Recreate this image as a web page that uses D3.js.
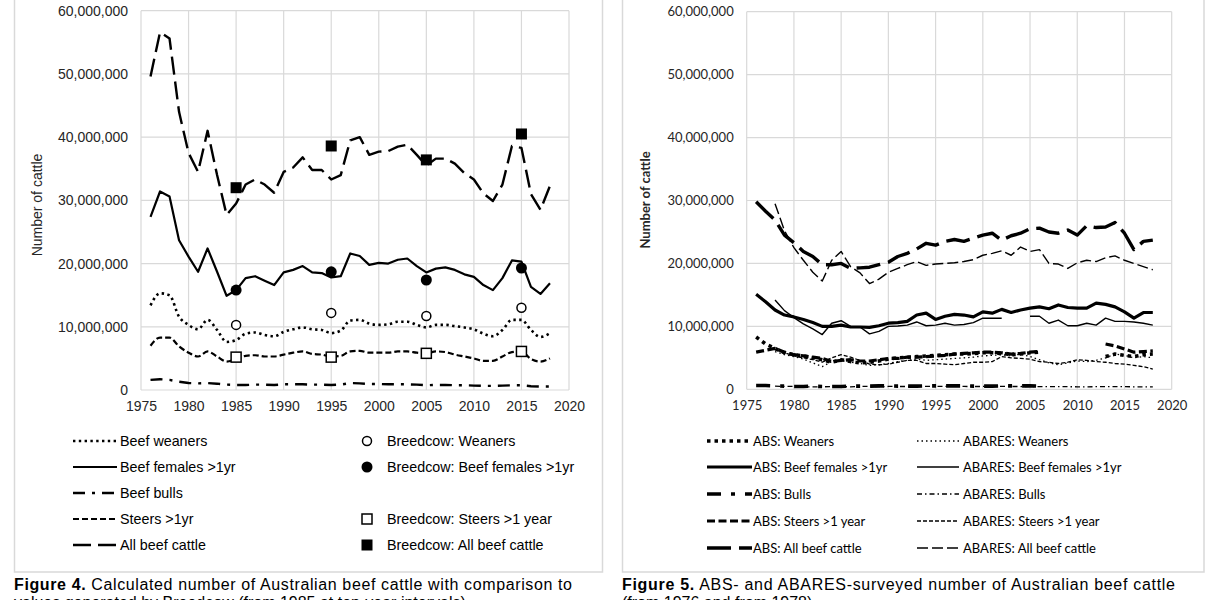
<!DOCTYPE html>
<html>
<head>
<meta charset="utf-8">
<script src="https://cdn.jsdelivr.net/npm/d3@7"></script>
<style>
  body { margin: 0; background: #fff; }
  svg { display: block; }
</style>
</head>
<body>
<svg id="fig" width="1217" height="600"></svg>
<script>
// ---- data (millions of head) ----
var years = [1976,1977,1978,1979,1980,1981,1982,1983,1984,1985,1986,1987,1988,1989,1990,
             1991,1992,1993,1994,1995,1996,1997,1998,1999,2000,2001,2002,2003,2004,2005,
             2006,2007,2008,2009,2010,2011,2012,2013,2014,2015,2016,2017,2018];
var yTicks = [0,10,20,30,40,50,60];
var xTicks = [1975,1980,1985,1990,1995,2000,2005,2010,2015,2020];

// Figure 4 - calculated
var calcWeaners = [13.4,15.3,15.0,11.6,10.3,9.6,11.1,9.5,7.6,7.9, 8.9,9.1,8.7,8.5,9.2,9.6,9.9,9.6,9.5,9.0,
                   9.4,11.0,11.1,10.5,10.3,10.4,10.8,10.8,10.3,9.9, 10.3,10.3,10.1,9.9,9.6,8.9,8.5,9.5,11.1,11.1,
                   9.5,8.4,9.0];
var calcFemales = [27.4,31.4,30.6,23.7,21.1,18.7,22.4,18.7,14.9,15.8, 17.7,18.0,17.3,16.6,18.6,19.0,19.6,18.6,18.5,17.8,
                   18.0,21.6,21.2,19.8,20.1,20.0,20.6,20.8,19.6,18.6, 19.2,19.4,19.0,18.3,17.9,16.6,15.8,17.7,20.5,20.3,
                   16.3,15.2,16.9];
var calcBulls = [1.6,1.7,1.6,1.3,1.1,1.05,1.1,1.0,0.85,0.8, 0.8,0.85,0.85,0.8,0.9,0.9,0.9,0.85,0.85,0.8,
                 0.85,1.1,1.05,0.95,0.95,0.9,0.9,0.9,0.85,0.75, 0.8,0.8,0.75,0.75,0.7,0.65,0.65,0.7,0.75,0.75,
                 0.6,0.55,0.55];
var calcSteers = [7.0,8.3,8.3,6.9,5.9,5.3,6.1,5.3,4.5,4.9, 5.4,5.5,5.3,5.3,5.6,5.9,6.1,5.7,5.6,5.3,
                  5.4,6.1,6.2,5.9,5.9,5.9,6.1,6.1,5.9,5.8, 6.1,6.0,5.6,5.3,5.0,4.6,4.6,5.3,6.0,6.1,
                  4.9,4.5,5.0];
var calcAll = [49.6,56.6,55.6,44.0,37.5,34.5,41.0,34.0,27.7,29.5, 32.5,33.3,32.5,31.2,34.5,35.2,36.8,34.8,34.8,33.3,
               34.0,39.5,40.0,37.2,37.7,37.8,38.5,38.8,37.2,35.5, 36.6,36.6,35.8,34.3,33.3,31.1,29.9,32.5,38.6,38.3,
               31.0,28.5,32.3];

var bcYears = [1985,1995,2005,2015];
var bcWeaners = [10.3,12.2,11.7,13.0];
var bcFemales = [15.8,18.7,17.4,19.3];
var bcSteers = [5.2,5.2,5.8,6.1];
var bcAll = [32.0,38.6,36.4,40.5];

// Figure 5 - ABS and ABARES surveys
var absWeaners = [8.3,7.2,6.5,5.8,5.5,5.3,5.0,4.7,4.3,4.7, 4.4,4.2,4.3,4.5,4.8,5.0,5.1,5.2,5.3,5.4,
                  5.5,5.6,5.6,5.7,5.8,5.8,5.7,5.5,5.6,5.8, 5.9,null,null,null,null,null,null,5.2,5.6,5.4,
                  5.2,5.5,5.6];
var absFemales = [15.1,13.9,12.6,11.8,11.5,11.1,10.6,10.0,10.0,10.2, 9.9,9.9,9.85,10.1,10.5,10.6,10.8,11.8,12.1,11.1,
                  11.6,11.9,11.8,11.5,12.3,12.1,12.7,12.2,12.6,12.9, 13.1,12.8,13.4,13.0,12.9,12.9,13.7,13.5,13.1,12.3,
                  11.3,12.2,12.2];
var absBulls = [0.6,0.6,0.55,0.5,0.45,0.45,0.5,0.45,0.45,0.45, 0.5,0.5,0.5,0.55,0.55,0.5,0.5,0.5,0.55,0.55,
                0.55,0.55,0.55,0.5,0.5,0.5,0.55,0.55,0.55,0.55, 0.5,null,null,null,null,null,null,null,null,null,
                null,null,null];
var absSteers = [5.9,6.2,6.5,5.9,5.5,5.3,5.1,4.9,4.4,4.6, 4.7,4.5,4.5,4.7,4.9,4.9,5.1,5.1,5.2,5.3,
                 5.4,5.6,5.7,5.8,5.9,5.9,5.8,5.6,5.7,5.9, 6.0,null,null,null,null,null,null,7.2,6.9,6.4,
                 5.9,6.0,6.1];
var absAll = [29.8,28.3,26.9,24.5,23.3,21.9,21.1,19.8,19.8,20.0, 19.2,19.3,19.4,19.8,20.2,21.1,21.6,22.3,23.2,22.9,
              23.5,23.8,23.5,24.0,24.5,24.8,23.7,24.4,24.8,25.5, 25.6,25.0,24.8,25.3,24.5,26.0,25.7,25.8,26.5,24.8,
              22.2,23.5,23.7];

var abaWeaners = [null,null,6.0,5.5,5.2,4.8,4.2,3.6,4.4,4.6, 4.3,4.1,3.8,3.9,4.1,4.4,4.6,4.8,4.6,4.7,
                  4.8,4.9,5.0,5.1,5.3,5.4,5.5,5.3,5.6,5.2, 4.7,4.2,3.9,4.2,4.5,4.4,4.6,5.0,5.6,5.4,
                  5.0,5.2,5.0];
var abaFemales = [null,null,14.2,12.5,11.4,10.4,9.6,8.7,10.5,10.9, 10.0,9.9,8.8,9.2,10.0,10.05,10.2,10.7,10.1,10.2,
                  10.5,10.2,10.3,10.6,11.3,11.3,11.3,null,null,11.6, 11.6,10.5,11.0,10.1,10.1,10.5,10.2,11.3,10.8,10.8,
                  10.7,10.5,10.2];
var abaBulls = [null,null,0.5,0.45,0.45,0.4,0.4,0.4,0.42,0.42, 0.4,0.45,0.45,0.42,0.45,0.45,0.44,0.45,0.45,0.46,
                0.45,0.47,0.45,0.44,0.45,0.46,0.45,0.45,0.44,0.45, 0.43,0.42,0.42,0.41,0.4,0.4,0.41,0.42,0.42,0.41,
                0.4,0.4,0.4];
var abaSteers = [null,null,6.3,5.8,5.3,5.0,4.7,4.3,5.0,5.5, 5.1,4.6,4.0,3.9,4.0,4.3,4.6,4.6,4.1,4.1,
                 4.0,3.9,4.1,4.3,4.3,4.4,5.2,5.0,4.9,4.8, 4.4,4.3,4.1,4.3,4.7,4.6,4.4,4.3,4.1,4.0,
                 3.8,3.6,3.2];
var abaAll = [null,null,29.5,25.2,22.5,20.5,18.6,17.2,20.5,21.9, 19.5,18.5,16.8,17.5,18.6,19.2,19.8,20.3,19.7,19.9,
              20.0,20.1,20.3,20.6,21.3,21.6,22.0,21.3,22.6,21.9, 22.2,20.0,19.9,19.2,20.1,20.5,20.3,20.9,21.2,20.5,
              20.0,19.5,19.0];

var svg = d3.select("#fig");
var fmt = d3.format(",");

// panel frames
svg.append("rect").attr("x", 14.5).attr("y", -3).attr("width", 588).attr("height", 575)
    .attr("fill", "none").attr("stroke", "#d9d9d9").attr("stroke-width", 1.5);
svg.append("rect").attr("x", 622.5).attr("y", -3).attr("width", 581.5).attr("height", 575)
    .attr("fill", "none").attr("stroke", "#d9d9d9").attr("stroke-width", 1.5);

function pairs(xs, vs) {
    return xs.map(function(d, i) { return [d, vs[i]]; });
}

// builds grid + axes for one panel and returns the scales
function panel(opt) {
    var x = d3.scaleLinear().domain([1975, 2020]).range(opt.xr);
    var y = d3.scaleLinear().domain([0, 60]).range(opt.yr);
    var g = svg.append("g");

    g.append("g").selectAll("line").data(yTicks).enter().append("line")
        .attr("x1", opt.xr[0]).attr("x2", opt.xr[1])
        .attr("y1", function(d) { return y(d); }).attr("y2", function(d) { return y(d); })
        .attr("stroke", "#d9d9d9").attr("stroke-width", 1.2);
    g.append("g").selectAll("line").data(xTicks).enter().append("line")
        .attr("y1", opt.yr[0]).attr("y2", opt.yr[1])
        .attr("x1", function(d) { return x(d); }).attr("x2", function(d) { return x(d); })
        .attr("stroke", "#d9d9d9").attr("stroke-width", 1.2);

    var ya = g.append("g").attr("transform", "translate(" + opt.xr[0] + ",0)")
        .call(d3.axisLeft(y).tickValues(yTicks).tickSize(0).tickPadding(opt.padY)
            .tickFormat(function(d) { return fmt(d * 1e6); }));
    var xa = g.append("g").attr("transform", "translate(0," + opt.yr[0] + ")")
        .call(d3.axisBottom(x).tickValues(xTicks).tickSize(0).tickPadding(opt.padX)
            .tickFormat(d3.format("d")));
    [ya, xa].forEach(function(a) {
        a.select(".domain").remove();
        a.selectAll("text").attr("font-family", opt.font).attr("font-size", opt.size)
            .attr("fill", opt.color);
    });

    g.append("text")
        .attr("transform", "translate(" + opt.titleX + "," + opt.titleY + ") rotate(-90)")
        .attr("text-anchor", "middle")
        .attr("font-family", opt.font).attr("font-size", opt.size)
        .attr("font-weight", opt.titleWeight).attr("fill", opt.color)
        .text("Number of cattle");
    return {x: x, y: y, g: g};
}

function drawLine(p, vals, st, curve) {
    var line = d3.line()
        .defined(function(d) { return d[1] != null; })
        .x(function(d) { return p.x(d[0]); })
        .y(function(d) { return p.y(d[1]); })
        .curve(curve || d3.curveLinear);
    p.g.append("path").datum(pairs(years, vals))
        .attr("d", line).attr("fill", "none").attr("stroke", "#000")
        .attr("stroke-width", st.w).attr("stroke-dasharray", st.dash)
        .attr("stroke-linecap", st.cap || "butt").attr("stroke-linejoin", "round");
}

function marker(sel, kind, cx, cy) {
    if (kind == "oc") {
        sel.append("circle").attr("cx", cx).attr("cy", cy).attr("r", 4.5)
            .attr("fill", "#fff").attr("stroke", "#000").attr("stroke-width", 1.5);
    } else if (kind == "fc") {
        sel.append("circle").attr("cx", cx).attr("cy", cy).attr("r", 5.5).attr("fill", "#000");
    } else if (kind == "os") {
        sel.append("rect").attr("x", cx - 5).attr("y", cy - 5).attr("width", 10).attr("height", 10)
            .attr("fill", "#fff").attr("stroke", "#000").attr("stroke-width", 1.5);
    } else {
        sel.append("rect").attr("x", cx - 5.5).attr("y", cy - 5.5).attr("width", 11).attr("height", 11)
            .attr("fill", "#000");
    }
}

// ---------------- Figure 4 ----------------
var left = panel({xr: [141, 569], yr: [390, 10.7], font: "'Liberation Sans', Arial, sans-serif",
    size: 14, color: "#262626", padY: 13, padX: 11, titleX: 42, titleY: 205, titleWeight: "normal"});

var st4 = {
    weaners: {w: 2.6, dash: "2.4,3.4"},
    females: {w: 2.2, dash: null},
    bulls: {w: 2.4, dash: "12,7,3,7"},
    steers: {w: 2.2, dash: "6,3"},
    all: {w: 2.4, dash: "18,7"}
};
drawLine(left, calcBulls, st4.bulls);
drawLine(left, calcSteers, st4.steers, d3.curveMonotoneX);
drawLine(left, calcWeaners, st4.weaners, d3.curveMonotoneX);
drawLine(left, calcFemales, st4.females);
drawLine(left, calcAll, st4.all);

var mk = left.g.append("g");
bcYears.forEach(function(yr, i) {
    marker(mk, "oc", left.x(yr), left.y(bcWeaners[i]));
    marker(mk, "fc", left.x(yr), left.y(bcFemales[i]));
    marker(mk, "os", left.x(yr), left.y(bcSteers[i]));
    marker(mk, "fs", left.x(yr), left.y(bcAll[i]));
});

// legend 4
var leg4 = svg.append("g").attr("font-family", "'Liberation Sans', Arial, sans-serif")
    .attr("font-size", 14.3).attr("fill", "#000");
var leg4Lines = [["Beef weaners", st4.weaners], ["Beef females >1yr", st4.females],
                 ["Beef bulls", st4.bulls], ["Steers >1yr", st4.steers], ["All beef cattle", st4.all]];
var rows4 = [441, 467, 493, 519, 545];
leg4Lines.forEach(function(d, i) {
    leg4.append("line").attr("x1", 73).attr("x2", 117).attr("y1", rows4[i]).attr("y2", rows4[i])
        .attr("stroke", "#000").attr("stroke-width", d[1].w).attr("stroke-dasharray", d[1].dash);
    leg4.append("text").attr("x", 120).attr("y", rows4[i] + 5).text(d[0]);
});
var leg4Marks = [["oc", "Breedcow: Weaners", 0], ["fc", "Breedcow: Beef females >1yr", 1],
                 ["os", "Breedcow: Steers >1 year", 3], ["fs", "Breedcow: All beef cattle", 4]];
leg4Marks.forEach(function(d) {
    marker(leg4, d[0], 367, rows4[d[2]]);
    leg4.append("text").attr("x", 387).attr("y", rows4[d[2]] + 5).text(d[1]);
});

// ---------------- Figure 5 ----------------
var right = panel({xr: [746.7, 1171.7], yr: [389.3, 11.7], font: "Lato, 'Open Sans', sans-serif",
    size: 13, color: "#262626", padY: 13, padX: 11, titleX: 650, titleY: 200, titleWeight: "bold"});

var st5 = {
    absWeaners: {w: 3.6, dash: "3.5,4"},
    abaWeaners: {w: 1.3, dash: "1.5,3"},
    absFemales: {w: 3.2, dash: null},
    abaFemales: {w: 1.4, dash: null},
    absBulls: {w: 3.6, dash: "14,10,4,10"},
    abaBulls: {w: 1.3, dash: "5,3,1.5,3"},
    absSteers: {w: 3.2, dash: "8,3.5"},
    abaSteers: {w: 1.3, dash: "4,2"},
    absAll: {w: 3.4, dash: "24,8"},
    abaAll: {w: 1.4, dash: "11,4"}
};
drawLine(right, abaBulls, st5.abaBulls);
drawLine(right, absBulls, st5.absBulls);
drawLine(right, abaSteers, st5.abaSteers);
drawLine(right, abaWeaners, st5.abaWeaners);
drawLine(right, absSteers, st5.absSteers);
drawLine(right, absWeaners, st5.absWeaners);
drawLine(right, abaFemales, st5.abaFemales);
drawLine(right, absFemales, st5.absFemales);
drawLine(right, abaAll, st5.abaAll);
drawLine(right, absAll, st5.absAll);

// legend 5
var leg5 = svg.append("g").attr("font-family", "Lato, 'Open Sans', sans-serif")
    .attr("font-size", 13).attr("fill", "#000");
var rows5 = [441, 467, 494, 521, 548];
var leg5Abs = [["ABS: Weaners", st5.absWeaners], ["ABS: Beef females >1yr", st5.absFemales],
               ["ABS: Bulls", st5.absBulls], ["ABS: Steers >1 year", st5.absSteers],
               ["ABS: All beef cattle", st5.absAll]];
var leg5Aba = [["ABARES: Weaners", st5.abaWeaners], ["ABARES: Beef females >1yr", st5.abaFemales],
               ["ABARES: Bulls", st5.abaBulls], ["ABARES: Steers >1 year", st5.abaSteers],
               ["ABARES: All beef cattle", st5.abaAll]];
leg5Abs.forEach(function(d, i) {
    leg5.append("line").attr("x1", 707).attr("x2", 752).attr("y1", rows5[i]).attr("y2", rows5[i])
        .attr("stroke", "#000").attr("stroke-width", d[1].w).attr("stroke-dasharray", d[1].dash);
    leg5.append("text").attr("x", 753).attr("y", rows5[i] + 4.5).text(d[0]);
});
leg5Aba.forEach(function(d, i) {
    leg5.append("line").attr("x1", 917).attr("x2", 959).attr("y1", rows5[i]).attr("y2", rows5[i])
        .attr("stroke", "#000").attr("stroke-width", d[1].w).attr("stroke-dasharray", d[1].dash);
    leg5.append("text").attr("x", 963).attr("y", rows5[i] + 4.5).text(d[0]);
});

// captions (the second line runs off the bottom edge, as in the source page)
function caption(x, lab, rest, width, line2) {
    var t = svg.append("text").attr("x", x).attr("y", 590)
        .attr("font-family", "'Liberation Sans', Arial, sans-serif").attr("font-size", 16)
        .attr("fill", "#000").attr("textLength", width).attr("lengthAdjust", "spacing");
    t.append("tspan").attr("font-weight", "bold").text(lab);
    t.append("tspan").text(rest);
    svg.append("text").attr("x", x).attr("y", 608)
        .attr("font-family", "'Liberation Sans', Arial, sans-serif").attr("font-size", 16)
        .attr("fill", "#000").text(line2);
}
caption(14, "Figure 4.", " Calculated number of Australian beef cattle with comparison to", 558,
        "values generated by Breedcow (from 1985 at ten-year intervals)");
caption(622, "Figure 5.", " ABS- and ABARES-surveyed number of Australian beef cattle", 553,
        "(from 1976 and from 1978)");
</script>
</body>
</html>
